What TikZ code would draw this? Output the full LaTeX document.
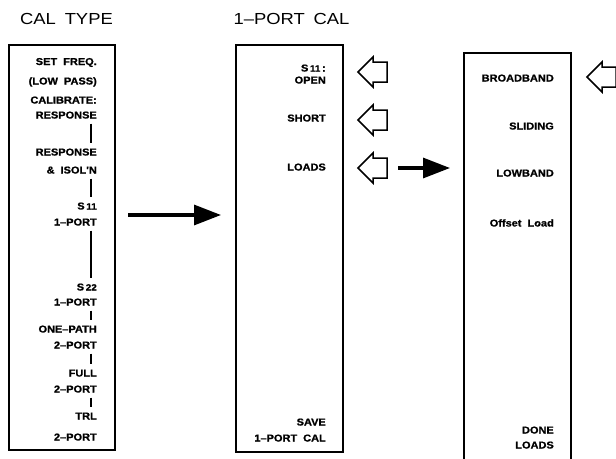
\documentclass[tikz,border=0pt]{standalone}
\usepackage{fontspec}
\setmainfont{Liberation Sans}
\newfontfamily\menufont{Liberation Sans}[FakeStretch=1.15]
\newfontfamily\menubold{Liberation Sans Bold}[FakeStretch=1.1, FakeBold=1]
\usetikzlibrary{arrows.meta}

\tikzset{
  menubox/.style={draw, line width=1.6pt},
  item/.style={anchor=east, inner sep=0pt, text height=7pt, text depth=0pt,
    font=\menubold\fontsize{10}{11}\selectfont},
  title/.style={inner sep=0pt, font=\menufont\fontsize{16}{18}\selectfont},
  link/.style={line width=1.6pt, shorten <=5pt, shorten >=5pt},
  goto/.style={line width=3.2pt, -{Triangle[length=27pt,width=20pt]}},
  softkey/.style={line width=1.5pt, line join=miter},
}

\begin{document}
\begin{tikzpicture}[x=1pt, y=-1pt]
  \useasboundingbox (0,0) rectangle (616,458);
  \clip (0,0) rectangle (616,458);
  % Titles
  \node[title] (caltype) at (66.5,19) {CAL\hspace{0.55em}TYPE};
  \node[title] (portcal) at (291.5,19) {1\textendash PORT\hspace{0.55em}CAL};
  % Menu boxes
  \draw[menubox] (9,45) rectangle (115,450);
  \draw[menubox] (236,45) rectangle (343,452);
  \draw[menubox] (464,53) rectangle (571,470);
  % Cal type menu
  \node[item] (setfreq) at (97,61.5) {SET\hspace{0.6em}FREQ.};
  \node[item] (lowpass) at (97,81) {(LOW\hspace{0.6em}PASS)};
  \node[item] (calib) at (97,100) {CALIBRATE:};
  \node[item] (resp) at (97,115) {RESPONSE};
  \node[item] (respb) at (97,152) {RESPONSE};
  \node[item] (isol) at (97,170) {\&\hspace{0.6em}ISOL'N};
  \node[item] (soneone) at (97,206) {S\,{\fontsize{9}{9}\selectfont 11}};
  \node[item] (portone) at (97,222) {1\textendash PORT};
  \node[item] (stwotwo) at (97,287) {S\,{\fontsize{9}{9}\selectfont 22}};
  \node[item] (porttwo) at (97,302) {1\textendash PORT};
  \node[item] (onepath) at (97,329) {ONE\textendash PATH};
  \node[item] (onepathb) at (97,345) {2\textendash PORT};
  \node[item] (full) at (97,373) {FULL};
  \node[item] (fullb) at (97,389) {2\textendash PORT};
  \node[item] (trl) at (97,416) {TRL};
  \node[item] (trlb) at (97,437) {2\textendash PORT};
  % Bars between cal types
  \coordinate (bar) at (91,0);
  \draw[link] (bar |- resp.south) -- (bar |- respb.north);
  \draw[link] (bar |- isol.south) -- (bar |- soneone.north);
  \draw[link] (bar |- portone.south) -- (bar |- stwotwo.north);
  \draw[link] (bar |- porttwo.south) -- (bar |- onepath.north);
  \draw[link] (bar |- onepathb.south) -- (bar |- full.north);
  \draw[link] (bar |- fullb.south) -- (bar |- trl.north);
  % 1-port cal menu
  \node[item] (open) at (326,68) {S\,{\fontsize{9}{9}\selectfont 11}\,:};
  \node[item] (openb) at (326,80) {OPEN};
  \node[item] (short) at (326,118) {SHORT};
  \node[item] (loads) at (326,167) {LOADS};
  \node[item] (save) at (326,422) {SAVE};
  \node[item] (saveb) at (326,438) {1\textendash PORT\hspace{0.6em}CAL};
  % Loads menu
  \node[item] (broad) at (554,78) {BROADBAND};
  \node[item] (sliding) at (554,126) {SLIDING};
  \node[item] (lowband) at (554,173) {LOWBAND};
  \node[item] (offset) at (554,223) {Offset\hspace{0.6em}Load};
  \node[item] (done) at (554,430) {DONE};
  \node[item] (doneb) at (554,445) {LOADS};
  % Softkey pointers
  \foreach \x/\y in {358/72, 358/120, 358/168, 587/77}
    \draw[softkey] (\x,\y) -- ++(15,-15) -- ++(0,5) -- ++(14,0) -- ++(0,20)
      -- ++(-14,0) -- ++(0,5) -- cycle;
  % Menu jumps
  \coordinate (jumpa) at (128,215);
  \coordinate (jumpb) at (221,215);
  \coordinate (jumpc) at (398,168);
  \coordinate (jumpd) at (450,168);
  \draw[goto] (jumpa) -- (jumpb);
  \draw[goto] (jumpc) -- (jumpd);
\end{tikzpicture}
\end{document}
